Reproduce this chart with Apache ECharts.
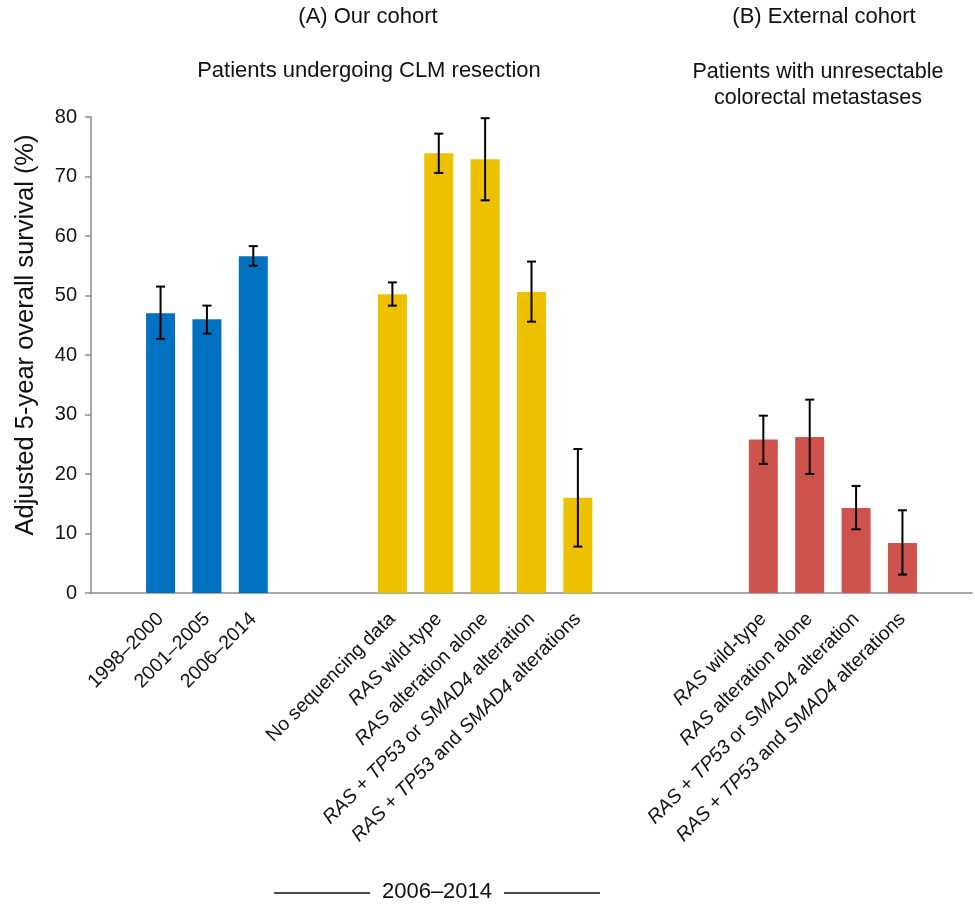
<!DOCTYPE html>
<html>
<head>
<meta charset="utf-8">
<script src="https://cdn.jsdelivr.net/npm/echarts@6/dist/echarts.min.js"></script>
<style>
	html, body { margin: 0; padding: 0; background: #fff; }
	#chart { width: 975px; height: 908px; }
</style>
</head>
<body>
<div id="chart"></div>
<script>
//横轴类目(空字符串为组间空位)
var categories = ['', '1998–2000', '2001–2005', '2006–2014', '', '',
	'No sequencing data', 'RAS wild-type', 'RAS alteration alone', 'RAS + TP53 or SMAD4 alteration', 'RAS + TP53 and SMAD4 alterations',
	'', '', '',
	'RAS wild-type', 'RAS alteration alone', 'RAS + TP53 or SMAD4 alteration', 'RAS + TP53 and SMAD4 alterations', ''];
//分组: period-年代, ours-本中心队列, external-外部队列
var groups = ['', 'period', 'period', 'period', '', '',
	'ours', 'ours', 'ours', 'ours', 'ours',
	'', '', '',
	'external', 'external', 'external', 'external', ''];
//校正后5年总生存率(%)
var survival = [null, 47.0, 46.0, 56.6, null, null,
	50.2, 73.9, 72.9, 50.6, 16.0,
	null, null, null,
	25.8, 26.2, 14.3, 8.4, null];
//误差线下限/上限
var ciLow = [null, 42.7, 43.6, 55.0, null, null,
	48.3, 70.6, 66.0, 45.6, 7.8,
	null, null, null,
	21.7, 20.0, 10.7, 3.1, null];
var ciHigh = [null, 51.5, 48.3, 58.3, null, null,
	52.2, 77.2, 79.8, 55.7, 24.2,
	null, null, null,
	29.8, 32.5, 18.0, 13.9, null];
//纵轴刻度
var yTicks = [0, 10, 20, 30, 40, 50, 60, 70, 80];

var groupColors = {
	period: '#0171C1',
	ours: '#EEC100',
	external: '#CF534D'
};
var fontName = 'Liberation Sans, Arial, sans-serif';

var barData = [];
var errData = [];
for(var i = 0; i < categories.length; i++) {
	if(survival[i] === null) {
		barData.push('-');
		continue;
	}
	barData.push({
		value: survival[i],
		itemStyle: {
			color: groupColors[groups[i]]
		}
	});
	errData.push([i, ciLow[i], ciHigh[i]]);
}

//基因名称斜体
var formatLabel = function(v) {
	if(!v) return '';
	return v.replace(/(RAS|TP53|SMAD4)/g, '{i|$1}');
};

var renderError = function(params, api) {
	var lo = api.coord([api.value(0), api.value(1)]);
	var hi = api.coord([api.value(0), api.value(2)]);
	var cap = 4.5;
	var style = {
		stroke: '#000',
		lineWidth: 2
	};
	return {
		type: 'group',
		children: [{
			type: 'line',
			shape: { x1: hi[0], y1: hi[1], x2: lo[0], y2: lo[1] },
			style: style
		}, {
			type: 'line',
			shape: { x1: hi[0] - cap, y1: hi[1], x2: hi[0] + cap, y2: hi[1] },
			style: style
		}, {
			type: 'line',
			shape: { x1: lo[0] - cap, y1: lo[1], x2: lo[0] + cap, y2: lo[1] },
			style: style
		}]
	};
};

var chart = echarts.init(document.getElementById('chart'));
chart.setOption({
	animation: false,
	textStyle: {
		fontFamily: fontName
	},
	grid: {
		left: 91,
		right: 3,
		top: 117,
		bottom: 315,
		containLabel: false
	},
	xAxis: {
		type: 'category',
		data: categories,
		axisLine: {
			lineStyle: { color: '#8c8c8c', width: 1.5 }
		},
		axisTick: { show: false },
		axisLabel: {
			interval: 0,
			rotate: 45,
			margin: 23,
			fontSize: 19.5,
			color: '#111',
			formatter: formatLabel,
			rich: {
				i: { fontStyle: 'italic', fontSize: 19.5, color: '#111' }
			}
		}
	},
	yAxis: {
		type: 'value',
		min: yTicks[0],
		max: yTicks[yTicks.length - 1],
		interval: 10,
		name: 'Adjusted 5-year overall survival (%)',
		nameLocation: 'middle',
		nameGap: 52,
		nameTextStyle: {
			fontSize: 25.5,
			color: '#111',
			padding: [0, 0, 0, 40]
		},
		axisLine: {
			show: true,
			lineStyle: { color: '#8c8c8c', width: 1.5 }
		},
		axisTick: {
			show: true,
			length: 6,
			lineStyle: { color: '#8c8c8c', width: 1.5 }
		},
		splitLine: { show: false },
		axisLabel: {
			fontSize: 20,
			margin: 14,
			color: '#111'
		}
	},
	series: [{
		type: 'bar',
		barWidth: 29,
		data: barData
	}, {
		type: 'custom',
		renderItem: renderError,
		data: errData,
		z: 10
	}],
	graphic: [{
		type: 'text',
		x: 368, y: 6,
		style: { text: '(A) Our cohort', align: 'center', fontSize: 22, fill: '#111', fontFamily: fontName }
	}, {
		type: 'text',
		x: 369, y: 60,
		style: { text: 'Patients undergoing CLM resection', align: 'center', fontSize: 22, fill: '#111', fontFamily: fontName }
	}, {
		type: 'text',
		x: 824, y: 6,
		style: { text: '(B) External cohort', align: 'center', fontSize: 22, fill: '#111', fontFamily: fontName }
	}, {
		type: 'text',
		x: 818, y: 59,
		style: {
			text: 'Patients with unresectable\ncolorectal metastases',
			align: 'center',
			fontSize: 21.5,
			lineHeight: 26,
			fill: '#111',
			fontFamily: fontName
		}
	}, {
		type: 'line',
		shape: { x1: 274, y1: 893, x2: 370, y2: 893 },
		style: { stroke: '#111', lineWidth: 1.5 }
	}, {
		type: 'line',
		shape: { x1: 504, y1: 893, x2: 600, y2: 893 },
		style: { stroke: '#111', lineWidth: 1.5 }
	}, {
		type: 'text',
		x: 437, y: 881,
		style: { text: '2006–2014', align: 'center', fontSize: 22, fill: '#111', fontFamily: fontName }
	}]
});
</script>
</body>
</html>
